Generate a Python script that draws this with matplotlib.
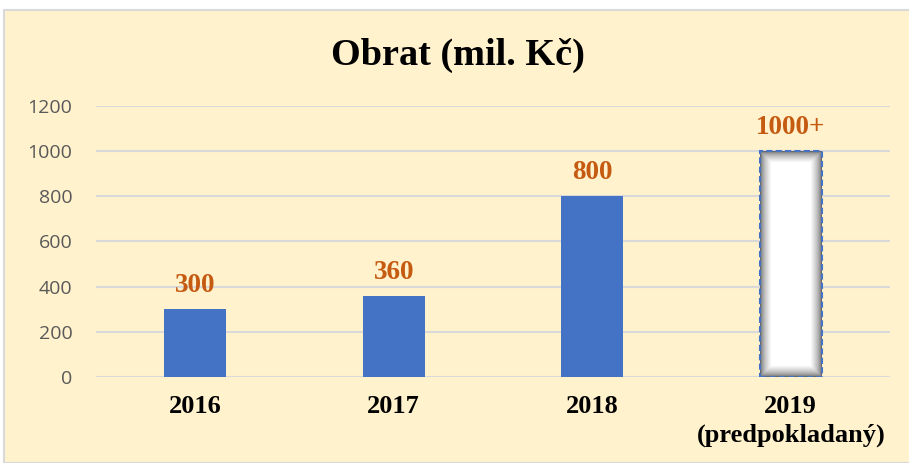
import matplotlib.pyplot as plt
import numpy as np

years = ['2016', '2017', '2018', '2019\n(predpokladaný)']
values = [300, 360, 800, 1000]
value_labels = ['300', '360', '800', '1000+']
yticks = [0, 200, 400, 600, 800, 1000, 1200]

bg = '#FFF2CC'
blue = '#4472C4'
orange = '#C55A11'

fig = plt.figure(figsize=(9.09, 4.63), dpi=100)
fig.patch.set_facecolor('white')

# pozadí grafu s rámečkem
frame = plt.Rectangle((4 / 909, 0), 1, 1 - 10 / 463, transform=fig.transFigure,
                      facecolor=bg, edgecolor='#D9D9D9', linewidth=1.5, zorder=-5)
fig.patches.append(frame)

ax = fig.add_axes([96 / 909, 1 - 377 / 463, (890 - 96) / 909, (377 - 106) / 463])
ax.set_facecolor('none')

x = np.arange(len(years))
w = 0.31

# skutečné roky
ax.bar(x[:3], values[:3], width=w, color=blue, zorder=3)

# odhad 2019 - bílý sloupec se stínem uvnitř
xi = x[3]
nx, ny = 62, 226
gx = np.linspace(-1, 1, nx)
gy = np.linspace(-1, 1, ny)
dx = 1 - np.abs(gx)[None, :]
d = np.minimum(dx, (1 - np.abs(gy)[:, None]) * 3.65)
shade = np.clip(d / 0.36, 0, 1)
gray = 0.4 + 0.6 * shade ** 0.6
ax.imshow(gray, cmap='gray', vmin=0, vmax=1, extent=(xi - w / 2, xi + w / 2, 0, values[3]),
          aspect='auto', zorder=3, interpolation='bilinear')
ax.bar(xi, values[3], width=w, facecolor='none', edgecolor=blue, linewidth=1.5,
       linestyle=(0, (3, 1.5)), zorder=4)

for xx, v, lab in zip(x, values, value_labels):
    ax.text(xx, v + 75, lab, ha='center', va='baseline', color=orange,
            fontsize=19.5, fontweight='bold', family='Liberation Serif')

ax.set_xlim(-0.5, 3.5)
ax.set_ylim(0, 1200)
ax.set_yticks(yticks)
ax.set_yticklabels([str(t) for t in yticks], color='#595959', fontsize=14,
                   family='Open Sans')
ax.tick_params(axis='y', length=0, pad=17)
ax.set_xticks(x)
ax.set_xticklabels(years, fontsize=19, fontweight='bold', family='Liberation Serif',
                   linespacing=1.3, va='top')
ax.tick_params(axis='x', length=0, pad=13)
ax.grid(axis='y', color='#D9D9D9', linewidth=1.5, zorder=0)
ax.set_axisbelow(True)
for s in ax.spines.values():
    s.set_visible(False)

fig.text(458 / 909, 1 - 55 / 463, 'Obrat (mil. Kč)', ha='center', va='center',
         fontsize=27.5, fontweight='bold', family='Liberation Serif')

fig.savefig('out.png', dpi=100, facecolor=fig.get_facecolor())
